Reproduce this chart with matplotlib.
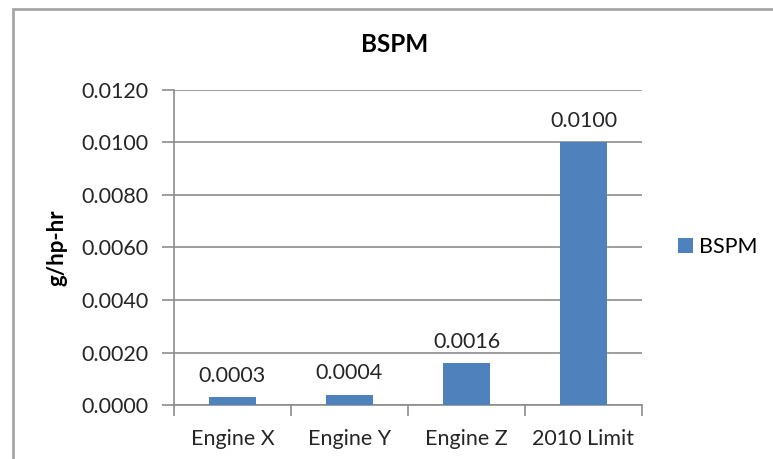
import numpy as np
import matplotlib.pyplot as plt
from matplotlib.patches import Rectangle

plt.rcParams['font.family'] = ['Lato', 'DejaVu Sans']

# BSPM emissions per engine, g/hp-hr
engines = ['Engine X', 'Engine Y', 'Engine Z', '2010 Limit']
bspm = [0.0003, 0.0004, 0.0016, 0.0100]
y_ticks = [0.0, 0.002, 0.004, 0.006, 0.008, 0.010, 0.012]

bar_color = '#4F81BD'
grid_color = '#8C8C8C'
text_color = '#262626'
fs = 15.5

fig = plt.figure(figsize=(7.73, 4.59), dpi=100)
ax = fig.add_axes([0.225, 0.1176, 0.6055, 0.6864])

x = np.arange(len(engines))
ax.bar(x, bspm, width=0.4, color=bar_color, zorder=3, label='BSPM')

for xi, v in zip(x, bspm):
    ax.annotate(f'{v:.4f}', (xi, v), xytext=(0, 8), textcoords='offset points',
                ha='center', va='bottom', fontsize=fs, color=text_color)

ax.set_xlim(-0.5, len(engines) - 0.5)
ax.set_ylim(0, 0.012)
ax.set_yticks(y_ticks)
ax.set_yticklabels([f'{t:.4f}' for t in y_ticks])
ax.yaxis.grid(True, color=grid_color, linewidth=1.2, zorder=0)
ax.set_axisbelow(True)

# category labels centred, tick marks on the category boundaries
ax.set_xticks(x)
ax.set_xticklabels(engines)
ax.set_xticks(np.arange(len(engines) + 1) - 0.5, minor=True)
ax.tick_params(axis='x', which='major', length=0, pad=17, labelsize=fs, labelcolor=text_color)
ax.tick_params(axis='x', which='minor', length=8, width=1.2, color=grid_color)
ax.tick_params(axis='y', length=9, width=1.2, color=grid_color, pad=9,
               labelsize=fs, labelcolor=text_color)

for side in ['top', 'right']:
    ax.spines[side].set_visible(False)
for side in ['left', 'bottom']:
    ax.spines[side].set_color(grid_color)
    ax.spines[side].set_linewidth(1.2)

ax.set_ylabel('g/hp-hr', fontsize=16, fontweight='bold', labelpad=10)
fig.text(0.511, 0.902, 'BSPM', ha='center', va='center', fontsize=17.5, fontweight='bold')

ax.legend(loc='center left', bbox_to_anchor=(1.035, 0.5), frameon=False,
          fontsize=fs, handlelength=0.7, handleheight=0.7, handletextpad=0.3)

# chart frame, cut off at the right and bottom edges
fig.patches.append(Rectangle((13 / 773, -0.05), 1.0, 1 - 9 / 459 + 0.05,
                             transform=fig.transFigure, fill=False,
                             edgecolor='#A6A6A6', linewidth=2))

fig.savefig('out.png', dpi=100)
